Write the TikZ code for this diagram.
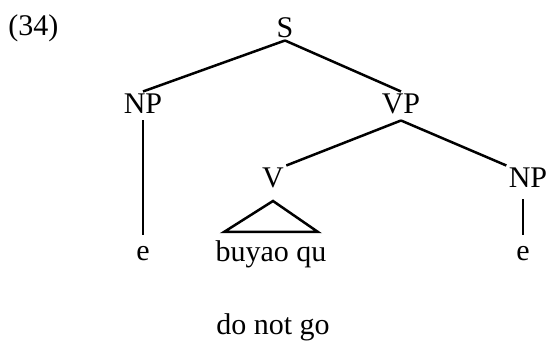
\documentclass[tikz,border=0pt]{standalone}
\usepackage{fontspec}
\setmainfont{Liberation Serif}
\usepackage{tikz}

\begin{document}
\begin{tikzpicture}[
  x=0.4pt, y=-0.4pt,
  font=\fontsize{12}{14}\selectfont,
  cat/.style={inner sep=0pt, outer sep=1pt, text height=8pt, text depth=1.6pt, anchor=base},
  leaf/.style={inner sep=0pt, outer xsep=0pt, outer ysep=5pt, text height=5.4pt, text depth=0pt, anchor=base},
  plain/.style={inner sep=0pt, anchor=base},
  branch/.style={line width=1pt}
]
\useasboundingbox (0,0) rectangle (548,345);
\node[plain, anchor=base west] (num) at (8,36) {(34)};
\node[cat, text depth=0pt] (S) at (285,38) {S};
\node[cat] (NPs) at (143,114) {NP};
\node[cat] (VP) at (401,114) {VP};
\node[cat] (V) at (273,188) {V};
\node[cat] (NPo) at (528,188) {NP};
\node[leaf] (es) at (143,261) {e};
\node[leaf] (eo) at (523,261) {e};
\node[plain] (bq) at (271,262) {buyao qu};
\node[plain] (gloss) at (273,335) {do not go};

\draw[branch] (S.south) -- (NPs.north);
\draw[branch] (S.south) -- (VP.north);
\draw[branch] (NPs.south) -- (es.north);
\draw[branch] (VP.south) -- (V.north east);
\draw[branch] (VP.south) -- (NPo.north west);
\draw[branch, shorten <=2pt] (eo.north |- NPo.south) -- (eo.north);
\draw[branch] ([yshift=-2.6pt]V.south) -- ([xshift=-18.8pt, yshift=12pt]bq.base)
  -- ([xshift=18.8pt, yshift=12pt]bq.base) -- cycle;
\end{tikzpicture}
\end{document}
